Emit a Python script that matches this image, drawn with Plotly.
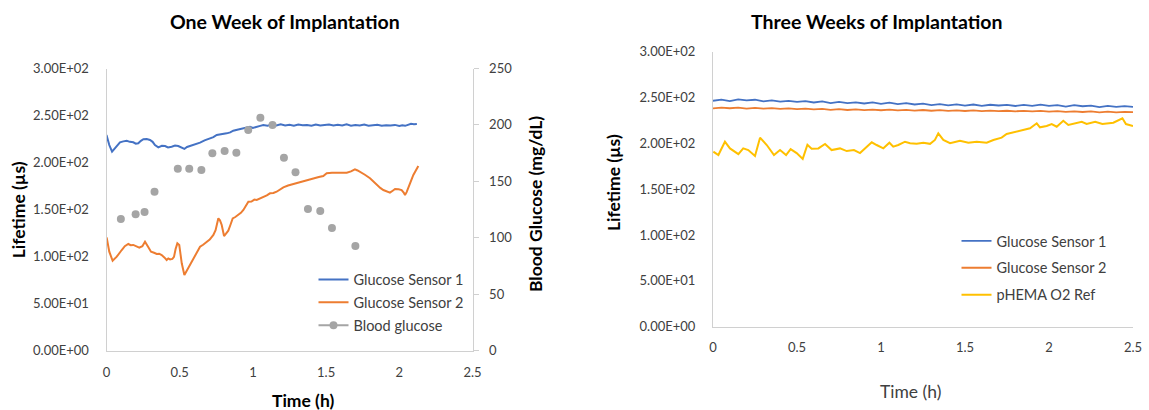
import plotly.graph_objects as go

# ---------------- One week of implantation ----------------
wk1_s1_t = [0.000, 0.019, 0.038, 0.058, 0.075, 0.092, 0.115, 0.138, 0.160, 0.183,
            0.200, 0.217, 0.235, 0.252, 0.275, 0.297, 0.315, 0.331, 0.354, 0.378,
            0.400, 0.420, 0.445, 0.468, 0.490, 0.510, 0.532, 0.550, 0.570, 0.605,
            0.639, 0.670, 0.707, 0.730, 0.753, 0.790, 0.821, 0.845, 0.866, 0.900,
            0.935, 0.960, 0.980, 1.000, 1.026, 1.050, 1.071, 1.10, 1.13, 1.16,
            1.19, 1.22, 1.25, 1.28, 1.31, 1.34, 1.37, 1.40, 1.43, 1.46,
            1.49, 1.52, 1.55, 1.58, 1.61, 1.64, 1.67, 1.70, 1.73, 1.76,
            1.79, 1.82, 1.85, 1.88, 1.91, 1.94, 1.97, 2.00, 2.02, 2.04,
            2.06, 2.08, 2.10, 2.12]
wk1_s1_v = [229.3, 218.6, 211.5, 215.0, 219.0, 221.5, 222.5, 223.2, 222.0, 221.5,
            220.0, 220.4, 223.0, 224.7, 225.0, 224.0, 222.0, 218.6, 216.1, 217.8,
            217.5, 216.0, 216.8, 218.0, 217.5, 216.0, 214.4, 216.5, 217.5, 219.5,
            221.1, 223.5, 225.7, 227.0, 229.3, 230.0, 231.0, 232.0, 233.8, 235.0,
            236.3, 237.2, 238.0, 236.8, 237.6, 239.0, 239.9, 239.2, 240.3, 239.5,
            240.6, 239.4, 240.2, 239.1, 240.4, 239.6, 240.0, 239.2, 240.5, 239.4,
            239.9, 240.4, 239.3, 240.1, 239.5, 240.6, 239.2, 240.0, 239.4, 240.3,
            239.1, 239.8, 240.2, 239.0, 239.7, 239.3, 240.0, 238.8, 239.6, 239.0,
            240.5, 241.2, 240.8, 241.0]

wk1_s2_t = [0.001, 0.019, 0.042, 0.070, 0.104, 0.125, 0.149, 0.165, 0.183, 0.205,
            0.224, 0.245, 0.263, 0.285, 0.304, 0.325, 0.343, 0.360, 0.377, 0.395,
            0.411, 0.422, 0.434, 0.450, 0.461, 0.472, 0.484, 0.497, 0.505, 0.514,
            0.532, 0.545, 0.559, 0.575, 0.593, 0.615, 0.639, 0.660, 0.684, 0.705,
            0.730, 0.745, 0.764, 0.775, 0.787, 0.803, 0.815, 0.832, 0.845, 0.862,
            0.880, 0.900, 0.918, 0.935, 0.950, 0.969, 0.990, 1.010, 1.026, 1.048,
            1.071, 1.095, 1.117, 1.140, 1.162, 1.185, 1.208, 1.240, 1.276, 1.310,
            1.344, 1.380, 1.413, 1.450, 1.481, 1.504, 1.540, 1.572, 1.610, 1.641,
            1.670, 1.697, 1.715, 1.732, 1.765, 1.800, 1.823, 1.846, 1.870, 1.891,
            1.915, 1.936, 1.955, 1.971, 1.995, 2.016, 2.030, 2.039, 2.050, 2.062,
            2.080, 2.096, 2.115, 2.130]
wk1_s2_v = [120.4, 105.1, 95.5, 99.8, 106.9, 111.0, 113.3, 112.0, 112.3, 110.5,
            109.4, 111.0, 115.7, 110.0, 105.1, 104.0, 102.7, 103.0, 101.6, 99.0,
            96.3, 98.0, 96.9, 97.5, 99.6, 108.0, 114.0, 112.3, 104.0, 92.8,
            80.3, 84.0, 89.2, 93.5, 98.1, 103.5, 110.4, 112.5, 115.7, 118.0,
            122.9, 128.0, 140.6, 138.5, 133.5, 121.8, 124.0, 127.5, 133.0, 140.6,
            142.0, 144.1, 146.5, 149.5, 153.5, 158.3, 158.5, 160.5, 160.1, 161.5,
            163.0, 165.0, 167.2, 167.5, 168.9, 171.0, 173.6, 175.5, 177.1, 178.8,
            180.6, 182.0, 183.2, 184.5, 185.6, 188.5, 189.0, 189.1, 188.6, 189.1,
            190.5, 192.8, 191.5, 190.2, 187.0, 183.2, 179.5, 176.1, 173.0, 170.7,
            169.0, 167.9, 170.0, 171.8, 171.5, 170.7, 168.0, 165.4, 168.5, 174.3,
            180.5, 186.7, 192.0, 196.3]

bg_t = [0.098, 0.199, 0.260, 0.328, 0.487, 0.565, 0.648, 0.723, 0.807, 0.887,
        0.968, 1.051, 1.134, 1.212, 1.291, 1.376, 1.460, 1.540, 1.700]
bg_v = [116.6, 120.7, 122.8, 140.8, 161.2, 161.2, 160.0, 174.8, 176.9, 175.4,
        195.5, 206.4, 199.9, 170.9, 158.0, 125.4, 123.7, 108.6, 92.6]

# ---------------- Three weeks of implantation ----------------
wk3_t = [0.00, 0.05, 0.10, 0.15, 0.20, 0.25, 0.30, 0.35, 0.40, 0.45,
         0.50, 0.55, 0.60, 0.65, 0.70, 0.75, 0.80, 0.85, 0.90, 0.95,
         1.00, 1.05, 1.10, 1.15, 1.20, 1.25, 1.30, 1.35, 1.40, 1.45,
         1.50, 1.55, 1.60, 1.65, 1.70, 1.75, 1.80, 1.85, 1.90, 1.95,
         2.00, 2.05, 2.10, 2.15, 2.20, 2.25, 2.30, 2.35, 2.40, 2.45, 2.50]
wk3_s1 = [246.5, 247.8, 246.2, 248.0, 246.9, 247.6, 245.8, 246.9, 245.5, 246.4,
          245.2, 246.1, 244.6, 245.7, 244.0, 245.2, 243.9, 244.8, 243.5, 244.6,
          243.2, 244.5, 242.9, 243.9, 242.4, 243.3, 241.8, 242.9, 241.5, 242.6,
          241.2, 242.4, 241.0, 242.1, 241.3, 242.0, 240.8, 241.9, 240.9, 242.2,
          241.0, 241.8, 240.2, 241.6, 240.5, 241.2, 239.6, 240.9, 239.8, 240.7, 239.9]
wk3_s2 = [238.2, 239.0, 238.3, 238.9, 238.0, 238.7, 237.8, 238.5, 237.6, 238.2,
          237.3, 237.9, 237.0, 237.6, 236.6, 237.3, 236.4, 237.0, 236.3, 236.9,
          236.1, 236.8, 235.9, 236.5, 235.8, 236.4, 235.6, 236.2, 235.4, 236.0,
          235.3, 235.9, 235.2, 235.8, 235.1, 235.6, 235.0, 235.5, 234.8, 235.4,
          234.7, 235.2, 234.4, 235.0, 234.2, 234.8, 233.9, 234.6, 233.8, 234.4, 234.0]

ref_t = [0.002, 0.032, 0.071, 0.101, 0.151, 0.180, 0.210, 0.250, 0.280, 0.320,
         0.363, 0.399, 0.435, 0.462, 0.498, 0.534, 0.562, 0.587, 0.627, 0.667,
         0.706, 0.756, 0.796, 0.839, 0.875, 0.905, 0.945, 0.974, 1.014, 1.050,
         1.073, 1.103, 1.143, 1.173, 1.212, 1.252, 1.292, 1.321, 1.341, 1.371,
         1.411, 1.470, 1.520, 1.570, 1.629, 1.669, 1.718, 1.748, 1.798, 1.847,
         1.887, 1.927, 1.946, 1.986, 2.016, 2.046, 2.085, 2.115, 2.155, 2.195,
         2.224, 2.275, 2.318, 2.383, 2.437, 2.458, 2.500]
ref_v = [190.9, 187.3, 201.8, 194.5, 188.3, 194.5, 192.7, 186.2, 206.2, 198.2,
         187.3, 192.7, 187.3, 193.8, 189.4, 183.1, 198.5, 194.2, 194.5, 199.3,
         192.7, 194.5, 191.6, 192.7, 189.4, 194.5, 201.2, 198.2, 194.6, 200.7,
         196.4, 198.2, 201.8, 200.1, 199.5, 200.7, 199.5, 203.7, 211.0, 203.7,
         200.1, 202.9, 200.7, 201.8, 200.7, 203.7, 206.2, 210.2, 212.7, 214.6,
         216.4, 221.9, 217.5, 219.0, 221.1, 218.2, 224.7, 220.0, 221.9, 223.6,
         221.1, 223.6, 221.1, 222.5, 227.3, 221.1, 219.0]

x_ticks = [0, 0.5, 1, 1.5, 2, 2.5]
x_ticktext = ["0", "0.5", "1", "1.5", "2", "2.5"]
life_ticks = [0, 50, 100, 150, 200, 250, 300]
life_ticktext = ["0.00E+00", "5.00E+01", "1.00E+02", "1.50E+02", "2.00E+02", "2.50E+02", "3.00E+02"]
bg_ticks = [0, 50, 100, 150, 200, 250]

BLUE, ORANGE, GREY, YELLOW = "#4472C4", "#ED7D31", "#A5A5A5", "#FFC000"
AX = "#D0D0D0"
FONT = "Lato"
W, H = 1149, 410

def px(x):
    return x / W

def py(y):
    return 1 - y / H

fig = go.Figure()

fig.add_trace(go.Scatter(x=wk1_s1_t, y=wk1_s1_v, mode="lines", name="Glucose Sensor 1", legendgroup="a1",
                         line=dict(color=BLUE, width=2), xaxis="x", yaxis="y", legend="legend"))
fig.add_trace(go.Scatter(x=wk1_s2_t, y=wk1_s2_v, mode="lines", name="Glucose Sensor 2", legendgroup="a2",
                         line=dict(color=ORANGE, width=2), xaxis="x", yaxis="y", legend="legend"))
fig.add_trace(go.Scatter(x=bg_t, y=bg_v, mode="markers", name="Blood glucose", showlegend=False,
                         marker=dict(color=GREY, size=8), xaxis="x", yaxis="y2"))
fig.add_trace(go.Scatter(x=[None], y=[None], mode="lines+markers", name="Blood glucose", legendgroup="a3",
                         line=dict(color=GREY, width=2), marker=dict(color=GREY, size=8),
                         xaxis="x", yaxis="y2", legend="legend"))

fig.add_trace(go.Scatter(x=wk3_t, y=wk3_s1, mode="lines", name="Glucose Sensor 1", legendgroup="b1",
                         line=dict(color=BLUE, width=1.8), xaxis="x2", yaxis="y3", legend="legend2"))
fig.add_trace(go.Scatter(x=wk3_t, y=wk3_s2, mode="lines", name="Glucose Sensor 2", legendgroup="b2",
                         line=dict(color=ORANGE, width=1.8), xaxis="x2", yaxis="y3", legend="legend2"))
fig.add_trace(go.Scatter(x=ref_t, y=ref_v, mode="lines", name="pHEMA O2 Ref", legendgroup="b3",
                         line=dict(color=YELLOW, width=2), xaxis="x2", yaxis="y3", legend="legend2"))

tickfont = dict(family=FONT, size=13, color="#404040")
common = dict(showgrid=False, zeroline=False, showline=True, linecolor=AX, linewidth=1,
              tickfont=tickfont, automargin=False)

fig.update_layout(
    width=W, height=H, margin=dict(l=0, r=0, t=0, b=0, pad=0, autoexpand=False),
    paper_bgcolor="white", plot_bgcolor="white",
    font=dict(family=FONT, color="#404040"),
    xaxis=dict(domain=[px(106.5), px(472.5)], range=[0, 2.5], tickvals=x_ticks, ticktext=x_ticktext,
               ticks="", anchor="y", ticklabelstandoff=10, **common),
    yaxis=dict(domain=[py(350.5), py(68.5)], range=[0, 300], tickvals=life_ticks, ticktext=life_ticktext,
               ticks="", anchor="x", ticklabelstandoff=14, **common),
    yaxis2=dict(range=[0, 250], overlaying="y", side="right", anchor="x", tickvals=bg_ticks,
                ticks="outside", ticklen=5, tickcolor=AX, ticklabelstandoff=8, **common),
    xaxis2=dict(domain=[px(713), px(1133)], range=[0, 2.5], tickvals=x_ticks, ticktext=x_ticktext,
                ticks="", anchor="y3", ticklabelstandoff=9, **common),
    yaxis3=dict(domain=[py(326.7), py(51.7)], range=[0, 300], tickvals=life_ticks, ticktext=life_ticktext,
                ticks="", anchor="x2", ticklabelstandoff=14, **common),
    legend=dict(x=px(313.5), y=py(263.5), xanchor="left", yanchor="top", bgcolor="rgba(0,0,0,0)",
                font=dict(family=FONT, size=14.5, color="#404040"), tracegroupgap=1),
    legend2=dict(x=px(956.5), y=py(225), xanchor="left", yanchor="top", bgcolor="rgba(0,0,0,0)",
                 font=dict(family=FONT, size=14.5, color="#404040"), tracegroupgap=5),
)

def ann(text, x, y, size, bold=True, angle=0):
    fig.add_annotation(text=("<b>%s</b>" % text) if bold else text, x=px(x), y=py(y),
                       xref="paper", yref="paper", showarrow=False, textangle=angle,
                       xanchor="center", yanchor="middle",
                       font=dict(family=FONT, size=size, color="#000000" if bold else "#404040"))

ann("One Week of Implantation", 285, 21.7, 19.5)
ann("Three Weeks of Implantation", 876.6, 21.7, 19.5)
ann("Lifetime (µs)", 18.3, 210, 17.5, angle=-90)
ann("Blood Glucose (mg/dL)", 535, 204, 17.5, angle=-90)
ann("Time (h)", 302.5, 400, 17.5)
ann("Lifetime (µs)", 613.6, 182.5, 17.5, angle=-90)
ann("Time (h)", 910, 391.7, 17.5, bold=False)

fig.write_html("out.html")
